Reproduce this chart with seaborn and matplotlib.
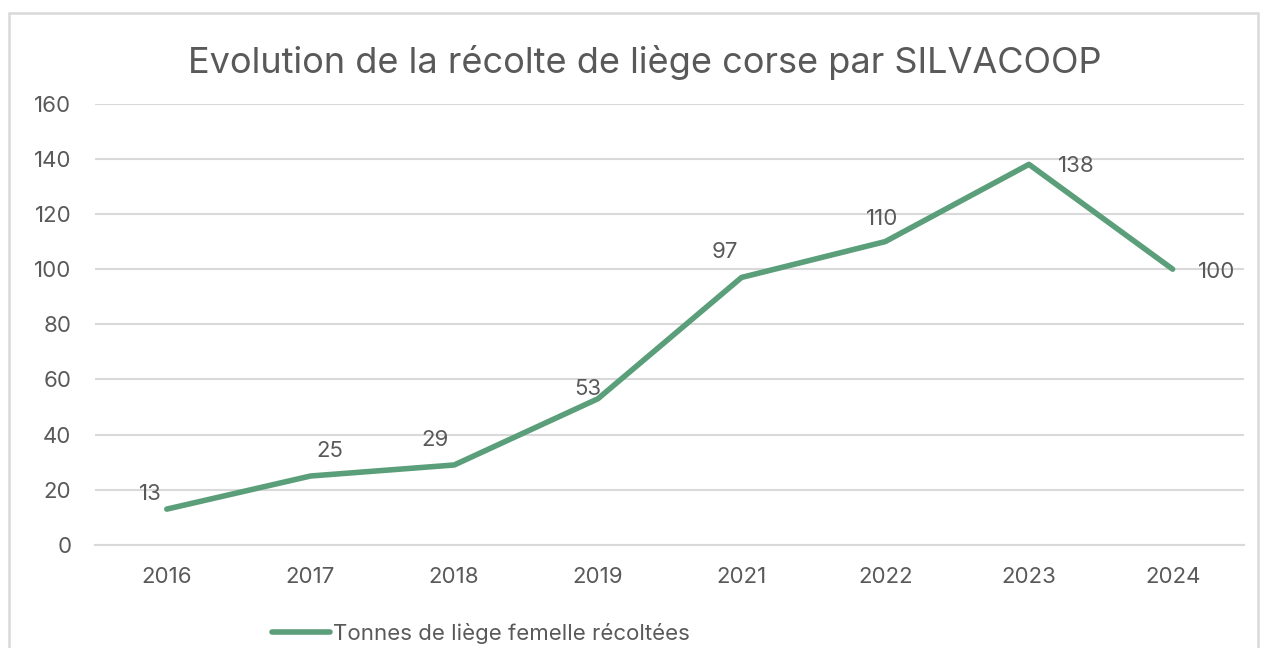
import matplotlib
matplotlib.use("Agg")
import matplotlib.pyplot as plt
from matplotlib.patches import Rectangle
import pandas as pd
import seaborn as sns

years = ["2016", "2017", "2018", "2019", "2021", "2022", "2023", "2024"]
tonnes = [13, 25, 29, 53, 97, 110, 138, 100]
series_name = "Tonnes de liège femelle récoltées"
title = "Evolution de la récolte de liège corse par SILVACOOP"

# label offsets in points (Excel-like placement)
label_offsets = [(-12, 11), (14, 18), (-14, 18), (-7, 7), (-12, 18), (-2, 16), (34, -1), (32, -2)]

LINE = "#5B9E7A"
TEXT = "#595959"
GRID = "#D9D9D9"

sns.set_theme(style="white")
plt.rcParams["font.family"] = ["Inter", "DejaVu Sans"]

df = pd.DataFrame({"year": years, "tonnes": tonnes})

fig = plt.figure(figsize=(12.66, 6.48), dpi=100)
ax = fig.add_axes([0.075, 0.159, 0.908, 0.681])

sns.lineplot(data=df, x="year", y="tonnes", ax=ax, color=LINE, linewidth=4,
             label=series_name, solid_capstyle="round", legend=False)

ax.set_ylim(0, 160)
ax.set_xlim(-0.5, len(years) - 0.5)
ax.set_yticks(range(0, 161, 20))
ax.yaxis.grid(True, color=GRID, linewidth=1.5)
ax.set_axisbelow(True)
for s in ax.spines.values():
    s.set_visible(False)
ax.spines["bottom"].set_visible(True)
ax.spines["bottom"].set_color(GRID)
ax.spines["bottom"].set_linewidth(1.5)
ax.tick_params(axis="both", length=0, labelsize=16, colors=TEXT)
ax.tick_params(axis="y", pad=17)
ax.tick_params(axis="x", pad=16)
ax.set_xlabel("")
ax.set_ylabel("")

for i, (v, off) in enumerate(zip(tonnes, label_offsets)):
    ax.annotate(str(v), (i, v), xytext=off, textcoords="offset points",
                ha="center", va="center", fontsize=16, color=TEXT)

fig.text(0.509, 0.904, title, ha="center", va="center", fontsize=26, color=TEXT)

handles, labels = ax.get_legend_handles_labels()
fig.legend(handles, labels, loc="center left", bbox_to_anchor=(0.2149, 0.023),
           frameon=False, fontsize=16, labelcolor=TEXT, handlelength=2.6,
           handletextpad=0.15, borderpad=0, borderaxespad=0)

fig.patches.append(Rectangle((9 / 1266, -0.1), 1249 / 1266, 1.1 - 13 / 648,
                             transform=fig.transFigure, fill=False,
                             edgecolor=GRID, linewidth=1.8))

fig.savefig("out.png", dpi=100)
